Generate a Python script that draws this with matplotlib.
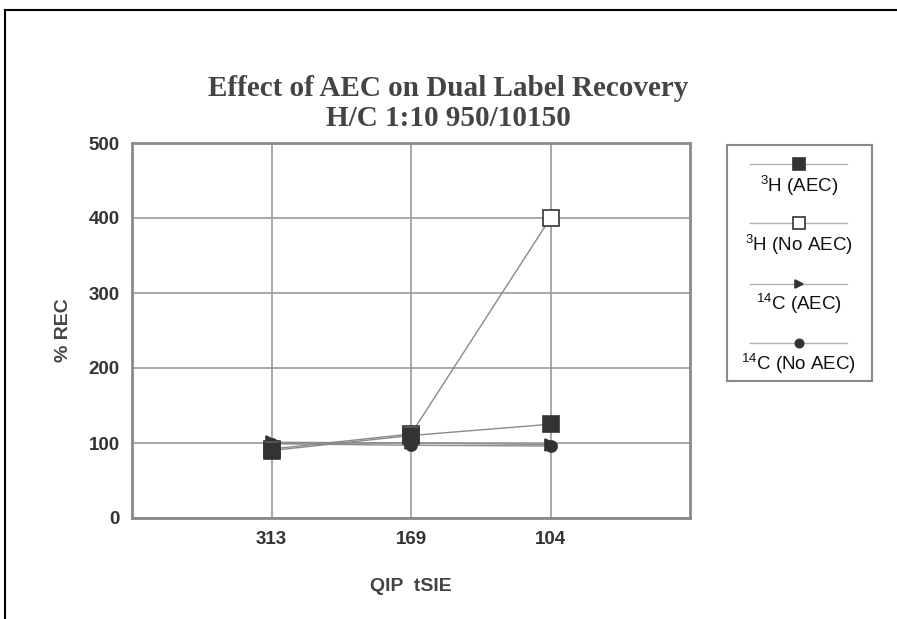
import matplotlib.pyplot as plt
from matplotlib.lines import Line2D

# data
categories = ['313', '169', '104']
h3_aec = [90, 110, 125]
h3_no_aec = [92, 112, 400]
c14_aec = [101, 100, 98]
c14_no_aec = [99, 97, 96]

labels = [r'$^{3}$H (AEC)', r'$^{3}$H (No AEC)', r'$^{14}$C (AEC)', r'$^{14}$C (No AEC)']
markers = ['s', 's', '>', 'o']
faces = ['#333333', 'white', '#333333', '#333333']
series = [h3_aec, h3_no_aec, c14_aec, c14_no_aec]

plt.rcParams['font.family'] = 'Liberation Sans'
plt.rcParams['mathtext.default'] = 'regular'

fig = plt.figure(figsize=(8.97, 6.19), dpi=100)

# page border (top and left only)
fig.add_artist(Line2D([5/897, 1], [1-10/619, 1-10/619], color='black', lw=1.5))
fig.add_artist(Line2D([5/897, 5/897], [0, 1-10/619], color='black', lw=1.5))

ax = fig.add_axes([132/897, 1-518/619, 558/897, 375/619])
x = [1, 2, 3]
# draw back to front so the filled squares sit on top
for i in [3, 2, 1, 0]:
    ax.plot(x, series[i], color='#8a8a8a', lw=1, marker=markers[i],
            markersize=11 if markers[i] == 's' else 8,
            markerfacecolor=faces[i], markeredgecolor='#333333', markeredgewidth=1.2,
            zorder=3)

ax.set_xlim(0, 4)
ax.set_ylim(0, 500)
ax.set_xticks(x)
ax.set_xticklabels(categories)
ax.set_yticks(range(0, 501, 100))
ax.grid(True, color='#9a9a9a', lw=1.2)
ax.set_axisbelow(True)
for s in ax.spines.values():
    s.set_color('#8a8a8a')
    s.set_linewidth(2)
ax.tick_params(length=0, labelsize=13.5, colors='#333333', pad=9)
for t in ax.get_xticklabels() + ax.get_yticklabels():
    t.set_fontweight('bold')

ax.set_ylabel('% REC', fontsize=14, fontweight='bold', color='#444444', labelpad=12)
ax.set_xlabel('QIP  tSIE', fontsize=14, fontweight='bold', color='#444444', labelpad=22)

fig.text(448/897, 1-89/619, 'Effect of AEC on Dual Label Recovery', ha='center', va='center',
         fontsize=21, fontweight='bold', family='Liberation Serif', color='#444444')
fig.text(448/897, 1-118/619, 'H/C 1:10 950/10150', ha='center', va='center',
         fontsize=21, fontweight='bold', family='Liberation Serif', color='#444444')

# legend drawn by hand: sample line above each label
lax = fig.add_axes([727/897, 1-381/619, 145/897, 236/619])
lax.set_xlim(727, 872)
lax.set_ylim(381, 145)
lax.set_xticks([])
lax.set_yticks([])
for s in lax.spines.values():
    s.set_color('#8a8a8a')
    s.set_linewidth(1.5)
line_y = [164, 223, 284, 343]
text_y = [186, 245, 304, 364]
for i in range(4):
    lax.plot([750, 847], [line_y[i], line_y[i]], color='#b0b0b0', lw=1, zorder=2)
    lax.plot([799], [line_y[i]], marker=markers[i],
             markersize=8 if markers[i] == 's' else 6,
             markerfacecolor=faces[i], markeredgecolor='#333333', markeredgewidth=1.2)
    lax.text(799, text_y[i], labels[i], ha='center', va='center', fontsize=13.5, color='#111111')

fig.savefig('out.png', dpi=100)
